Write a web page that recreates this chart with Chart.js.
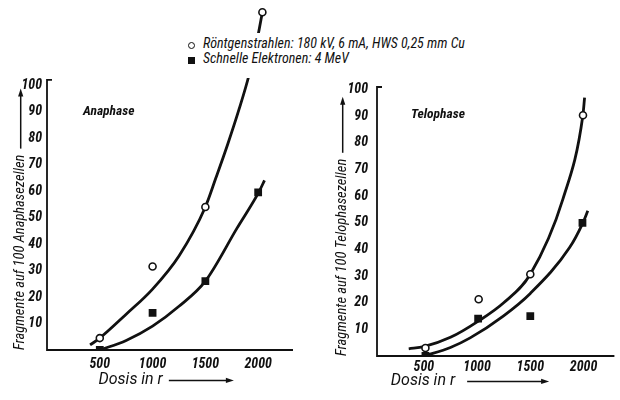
<!DOCTYPE html>
<html>
<head>
<meta charset="utf-8">
<script src="https://cdn.jsdelivr.net/npm/chart.js@4.4.1/dist/chart.umd.min.js"></script>
<style>
  body { margin: 0; background: #fff; }
  #wrap { position: relative; width: 620px; height: 400px; overflow: hidden; color: #111;
          font-family: "Roboto Condensed", Roboto, sans-serif; }
  .panel { position: absolute; top: 0; width: 310px; height: 400px; }
  #legend { position: absolute; left: 185px; top: 33px; width: 285px; height: 42px; padding-top: 3px;
            background: #fff; font-style: italic; font-size: 14px; line-height: 15px; white-space: nowrap; }
  #legend .m { display: inline-block; width: 7px; height: 7px; margin: 0 8px 0 3px; vertical-align: -1px; box-sizing: border-box; }
  #legend .c { border: 1.6px solid #111; border-radius: 50%; }
  #legend .s { background: #111; }
  .lab { position: absolute; font-style: italic; font-weight: bold; font-size: 13.5px; line-height: 16px; }
</style>
</head>
<body>
<div id="wrap">
  <div class="panel" style="left:0"><canvas id="ana" width="310" height="400"></canvas></div>
  <div class="panel" style="left:310px"><canvas id="telo" width="310" height="400"></canvas></div>
  <div id="legend">
    <div><span class="m c"></span>Röntgenstrahlen: 180 kV, 6 mA, HWS 0,25 mm Cu</div>
    <div><span class="m s"></span>Schnelle Elektronen: 4 MeV</div>
  </div>
  <div class="lab" style="left:83px; top:102px">Anaphase</div>
  <div class="lab" style="left:411px; top:105px">Telophase</div>
</div>
<script>
// tick labels
const X_TICKS = [500, 1000, 1500, 2000];
const Y_TICKS = [10, 20, 30, 40, 50, 60, 70, 80, 90, 100];

// Anaphase: measured points
const ANA_XRAY_X = [500, 1000, 1500, 2040];
const ANA_XRAY_Y = [4.5, 31.5, 54, 127.5];
const ANA_ELEC_X = [500, 1000, 1500, 2000];
const ANA_ELEC_Y = [0, 14, 26, 59.5];
// Anaphase: drawn curves
const ANA_XRAY_CURVE_X = [408, 500, 750, 1000, 1250, 1500, 1600, 1710, 1820, 1915, 2000, 2040];
const ANA_XRAY_CURVE_Y = [1.9, 4.5, 13.5, 23, 35.5, 54, 65, 77.5, 91, 104, 119, 127.5];
const ANA_ELEC_CURVE_X = [500, 750, 1000, 1250, 1500, 1800, 2005, 2060];
const ANA_ELEC_CURVE_Y = [0, 3.6, 9, 16.5, 26, 46, 59.5, 64];

// Telophase: measured points
const TELO_XRAY_X = [515, 1015, 1500, 1995];
const TELO_XRAY_Y = [3, 21.3, 30.7, 90.4];
const TELO_ELEC_X = [515, 1010, 1500, 1990];
const TELO_ELEC_Y = [0, 14, 15, 50];
// Telophase: drawn curves
const TELO_XRAY_CURVE_X = [358, 500, 750, 1012, 1250, 1500, 1807, 1994, 2010];
const TELO_XRAY_CURVE_Y = [2.7, 3.5, 7, 13.1, 20, 30.7, 59, 90.4, 97];
const TELO_ELEC_CURVE_X = [500, 750, 935, 1246, 1500, 1869, 1994, 2040];
const TELO_ELEC_CURVE_Y = [0, 3.2, 6.8, 15, 23.5, 40.7, 50, 54.5];

const X_TITLE = 'Dosis in r';
const ANA_Y_TITLE = 'Fragmente auf 100 Anaphasezellen';
const TELO_Y_TITLE = 'Fragmente auf 100 Telophasezellen';

const INK = '#111';
const FAMILY = '"Roboto Condensed", Roboto, sans-serif';

function zip(xs, ys) {
    return xs.map((x, i) => ({ x: x, y: ys[i] }));
}

function arrow(ctx, x1, y1, x2, y2) {
    const a = Math.atan2(y2 - y1, x2 - x1);
    ctx.beginPath();
    ctx.moveTo(x1, y1);
    ctx.lineTo(x2 - 5 * Math.cos(a), y2 - 5 * Math.sin(a));
    ctx.stroke();
    ctx.beginPath();
    ctx.moveTo(x2, y2);
    ctx.lineTo(x2 - 8 * Math.cos(a) + 2.6 * Math.sin(a), y2 - 8 * Math.sin(a) - 2.6 * Math.cos(a));
    ctx.lineTo(x2 - 8 * Math.cos(a) - 2.6 * Math.sin(a), y2 - 8 * Math.sin(a) + 2.6 * Math.cos(a));
    ctx.closePath();
    ctx.fill();
}

// axis lines (only up to yTop) and the arrows after the axis titles
const axesPlugin = {
    id: 'axes',
    beforeDatasetsDraw(chart, args, o) {
        const ctx = chart.ctx, xs = chart.scales.x, ys = chart.scales.y;
        const x0 = xs.getPixelForValue(xs.min), y0 = ys.getPixelForValue(0);
        const yt = ys.getPixelForValue(o.yTop);
        ctx.save();
        ctx.strokeStyle = INK;
        ctx.lineWidth = 1.8;
        ctx.beginPath();
        ctx.moveTo(x0 + 5, yt);
        ctx.lineTo(x0, yt);
        ctx.lineTo(x0, y0);
        ctx.lineTo(xs.right, y0);
        ctx.stroke();
        ctx.restore();
    },
    afterDraw(chart, args, o) {
        const ctx = chart.ctx, xs = chart.scales.x, ys = chart.scales.y;
        const h = Chart.helpers;
        ctx.save();
        ctx.strokeStyle = INK;
        ctx.fillStyle = INK;
        ctx.lineWidth = 1.5;
        // x title arrow
        let t = xs.options.title, f = h.toFont(t.font);
        ctx.font = f.string;
        const full = ctx.measureText(t.text).width;
        const base = ctx.measureText(t.text.trim()).width;
        const cy = xs.bottom - f.lineHeight / 2 - h.toPadding(t.padding).bottom;
        const ax = (xs.left + xs.right) / 2 - full / 2 + base + o.gap;
        arrow(ctx, ax, cy, ax + o.xLen, cy);
        // y title arrow
        t = ys.options.title;
        f = h.toFont(t.font);
        ctx.font = f.string;
        const w = ctx.measureText(t.text).width;
        const cx = ys.left + f.lineHeight / 2 + h.toPadding(t.padding).top;
        const ay = ys.bottom - w - 6;
        arrow(ctx, cx, ay, cx, ay - o.yLen);
        ctx.restore();
    }
};

function makeChart(id, s) {
    const tickFont = { family: FAMILY, size: 14, style: 'italic', weight: 'bold' };
    const noPad = function (scale) {
        scale.paddingLeft = scale.paddingRight = scale.paddingTop = scale.paddingBottom = 0;
    };
    return new Chart(document.getElementById(id), {
        type: 'scatter',
        data: {
            datasets: [
                { data: s.xray, pointStyle: 'circle', pointRadius: 3.5, borderWidth: 1.6,
                  borderColor: INK, backgroundColor: '#fff' },
                { data: s.elec, pointStyle: 'rect', pointRadius: 5.5, borderWidth: 0,
                  borderColor: INK, backgroundColor: INK },
                { data: s.xrayCurve, showLine: true, pointRadius: 0, borderWidth: 2.8,
                  borderColor: INK, cubicInterpolationMode: 'monotone' },
                { data: s.elecCurve, showLine: true, pointRadius: 0, borderWidth: 2.8,
                  borderColor: INK, cubicInterpolationMode: 'monotone' }
            ]
        },
        options: {
            responsive: false,
            animation: false,
            layout: { padding: s.padding },
            scales: {
                x: {
                    type: 'linear', min: s.xMin, max: s.xMax,
                    grid: { display: false, drawTicks: false },
                    border: { display: false },
                    afterBuildTicks: function (scale) { scale.ticks = X_TICKS.map(v => ({ value: v })); },
                    afterFit: function (scale) { scale.height = s.xHeight; noPad(scale); },
                    ticks: { color: INK, font: tickFont, padding: s.xTickPad, maxRotation: 0,
                             callback: v => String(v) },
                    title: { display: true, text: X_TITLE + ' '.repeat(s.xSpaces), color: INK,
                             font: { family: 'Roboto, sans-serif', size: 16, style: 'italic' },
                             padding: { top: 0, bottom: s.xTitlePad } }
                },
                y: {
                    type: 'linear', min: 0, max: s.yMax,
                    grid: { display: false, drawTicks: false },
                    border: { display: false },
                    afterBuildTicks: function (scale) { scale.ticks = Y_TICKS.map(v => ({ value: v })); },
                    afterFit: function (scale) { scale.width = s.yWidth; noPad(scale); },
                    ticks: { color: INK, font: tickFont, padding: s.yTickPad, callback: v => String(v) },
                    title: { display: true, text: s.yTitle, align: 'start', color: INK,
                             font: { family: FAMILY, size: 14.5, style: 'italic' },
                             padding: { top: s.yTitlePad, bottom: 0 } }
                }
            },
            plugins: {
                legend: { display: false },
                tooltip: { enabled: false },
                axes: { yTop: s.yTop, gap: s.gap, xLen: s.xLen, yLen: s.yLen }
            }
        },
        plugins: [axesPlugin]
    });
}

makeChart('ana', {
    xray: zip(ANA_XRAY_X, ANA_XRAY_Y),
    elec: zip(ANA_ELEC_X, ANA_ELEC_Y),
    xrayCurve: zip(ANA_XRAY_CURVE_X, ANA_XRAY_CURVE_Y),
    elecCurve: zip(ANA_ELEC_CURVE_X, ANA_ELEC_CURVE_Y),
    padding: { left: 0, right: 17, top: 4, bottom: 0 },
    xMin: 0, xMax: 2330, yMax: 130, yTop: 102,
    xHeight: 50, yWidth: 47, xTickPad: 6, yTickPad: 5,
    xSpaces: 20, xTitlePad: 10, yTitle: ANA_Y_TITLE, yTitlePad: 12,
    gap: 6, xLen: 65, yLen: 60
});

makeChart('telo', {
    xray: zip(TELO_XRAY_X, TELO_XRAY_Y),
    elec: zip(TELO_ELEC_X, TELO_ELEC_Y),
    xrayCurve: zip(TELO_XRAY_CURVE_X, TELO_XRAY_CURVE_Y),
    elecCurve: zip(TELO_ELEC_CURVE_X, TELO_ELEC_CURVE_Y),
    padding: { left: 0, right: 5, top: 79, bottom: 0 },
    xMin: 60, xMax: 2290, yMax: 104, yTop: 101,
    xHeight: 44, yWidth: 67, xTickPad: 3, yTickPad: 9,
    xSpaces: 37, xTitlePad: 9, yTitle: TELO_Y_TITLE, yTitlePad: 24,
    gap: 12, xLen: 82, yLen: 56
});
</script>
</body>
</html>
